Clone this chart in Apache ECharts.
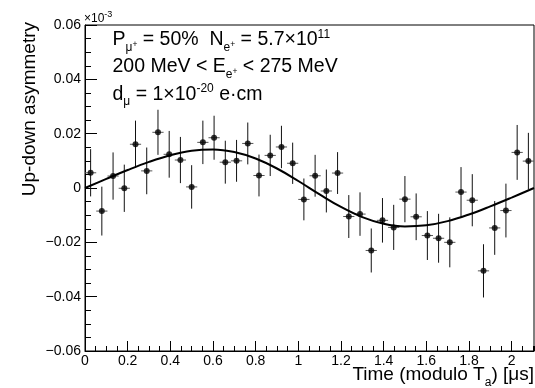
<!DOCTYPE html>
<html><head><meta charset="utf-8">
<script src="https://cdn.jsdelivr.net/npm/echarts@6/dist/echarts.min.js"></script>
<style>html,body{margin:0;padding:0;background:#fff}#c{width:535px;height:388px}</style>
</head><body><div id="c"></div>
<script>
// ---- data ----
const binCenters = [0.0263, 0.0789, 0.1316, 0.1842, 0.2368, 0.2894, 0.3421, 0.3947, 0.4473, 0.5000,
  0.5526, 0.6052, 0.6578, 0.7105, 0.7631, 0.8157, 0.8683, 0.9210, 0.9736, 1.0262,
  1.0788, 1.1315, 1.1841, 1.2367, 1.2893, 1.3420, 1.3946, 1.4472, 1.4998, 1.5525,
  1.6051, 1.6577, 1.7103, 1.7629, 1.8156, 1.8682, 1.9208, 1.9734, 2.0261, 2.0787];
const asymmetry = [0.0056, -0.0085, 0.0044, -0.0001, 0.0161, 0.0063, 0.0205, 0.0124, 0.0103, 0.0004,
  0.0168, 0.0185, 0.0095, 0.0100, 0.0164, 0.0046, 0.0120, 0.0151, 0.0091, -0.0042,
  0.0045, -0.0011, 0.0055, -0.0105, -0.0096, -0.0230, -0.0119, -0.0145, -0.0041, -0.0106,
  -0.0175, -0.0185, -0.0200, -0.0015, -0.0045, -0.0305, -0.0147, -0.0083, 0.0131, 0.0099];
const asymErr = [0.0087, 0.0090, 0.0087, 0.0087, 0.0087, 0.0086, 0.0083, 0.0086, 0.0085, 0.0080,
  0.0080, 0.0081, 0.0079, 0.0077, 0.0077, 0.0077, 0.0076, 0.0078, 0.0076, 0.0077,
  0.0077, 0.0079, 0.0077, 0.0079, 0.0080, 0.0081, 0.0082, 0.0083, 0.0085, 0.0086,
  0.0090, 0.0090, 0.0092, 0.0092, 0.0096, 0.0098, 0.0099, 0.0099, 0.0101, 0.0104];
const binWidth = 0.0526;
const fitTime = [0, 0.1, 0.2, 0.3, 0.4, 0.5, 0.6, 0.7, 0.8, 0.9, 1.0, 1.1, 1.2, 1.3, 1.4, 1.5, 1.6, 1.7, 1.8, 1.9, 2.0, 2.105];
const fitValue = [0, 0.00336, 0.00662, 0.00961, 0.01208, 0.01371, 0.01419, 0.01326, 0.01086, 0.00718, 0.00258,
  -0.00234, -0.00698, -0.01072, -0.01318, -0.01417, -0.01375, -0.0122, -0.00975, -0.00676, -0.00353, 0];
const xRange = [0, 2.105];
const yRange = [-0.06, 0.06];

const FONT = '"Liberation Sans", Arial, Helvetica, sans-serif';
const mctx = document.createElement('canvas').getContext('2d');
function measure(t, s) { mctx.font = s + 'px ' + FONT; return mctx.measureText(t).width; }
function textRun(x0, baseY, pieces, alignRight) {
  let total = 0;
  pieces.forEach(p => total += measure(p.t, p.s));
  let x = alignRight ? x0 - total : x0;
  const els = [];
  pieces.forEach(p => {
    els.push({ type: 'text', x: x, y: baseY + (p.dy || 0) - 0.34 * p.s, silent: true,
      style: { text: p.t, font: p.s + 'px ' + FONT, fill: '#000', textAlign: 'left', textVerticalAlign: 'middle' } });
    x += measure(p.t, p.s);
  });
  return els;
}

const F = 19.5, SUB = 12, TINY = 8.5, AX = 19;
const graphics = [].concat(
  textRun(112.5, 46.7, [{t:'P',s:F},{t:'μ',s:SUB,dy:5},{t:'+',s:TINY,dy:1},{t:' = 50%  N',s:F},{t:'e',s:SUB,dy:5},{t:'+',s:TINY,dy:1},{t:' = 5.7×10',s:F},{t:'11',s:SUB,dy:-8}]),
  textRun(112.5, 73.3, [{t:'200 MeV < E',s:F},{t:'e',s:SUB,dy:5},{t:'+',s:TINY,dy:1},{t:' < 275 MeV',s:F}]),
  textRun(112.5, 101, [{t:'d',s:F},{t:'μ',s:SUB,dy:5},{t:' = 1×10',s:F},{t:'-20',s:SUB,dy:-8},{t:' e·cm',s:F}]),
  textRun(534, 381, [{t:'Time (modulo T',s:AX},{t:'a',s:SUB,dy:6},{t:') [μs]',s:AX}], true),
  textRun(84, 23, [{t:'×10',s:12},{t:'-3',s:9,dy:-5}]),
  [{ type: 'text', x: 30, y: 22, rotation: Math.PI / 2, silent: true,
     style: { text: 'Up-down asymmetry', font: AX + 'px ' + FONT, fill: '#000', textAlign: 'right', textVerticalAlign: 'middle' } }]
);

const points = binCenters.map((t, i) => [t, asymmetry[i], asymErr[i]]);

const option = {
  animation: false,
  backgroundColor: '#fff',
  grid: { left: 85, top: 25, width: 449, height: 326, show: true, borderColor: '#000', borderWidth: 1, backgroundColor: 'transparent' },
  xAxis: [
    { type: 'value', min: xRange[0], max: xRange[1], interval: 0.2, position: 'bottom',
      axisLine: { show: true, onZero: false, lineStyle: { color: '#000', width: 1 } },
      axisTick: { show: true, inside: true, length: 10, lineStyle: { color: '#000' } },
      axisLabel: { show: true, showMaxLabel: false, margin: 3, color: '#000', fontSize: 14, fontFamily: FONT,
        formatter: v => String(Math.round(v * 10) / 10) },
      splitLine: { show: false } },
    { type: 'value', min: xRange[0], max: xRange[1], interval: 0.05, position: 'bottom',
      axisLine: { show: false, onZero: false },
      axisTick: { show: true, inside: true, length: 5, lineStyle: { color: '#000' } },
      axisLabel: { show: false }, splitLine: { show: false } }
  ],
  yAxis: {
    type: 'value', min: yRange[0], max: yRange[1], interval: 0.02,
    axisLine: { show: true, onZero: false, lineStyle: { color: '#000', width: 1 } },
    axisTick: { show: true, inside: true, length: 12, lineStyle: { color: '#000' } },
    minorTick: { show: true, splitNumber: 4, length: 6, lineStyle: { color: '#000' } },
    axisLabel: { margin: 4, color: '#000', fontSize: 14, fontFamily: FONT,
      formatter: v => { const r = Math.round(v * 100) / 100; if (r === 0) return '0'; return r < 0 ? '\u2212' + Math.abs(r).toFixed(2) : r.toFixed(2); } },
    splitLine: { show: false }
  },
  series: [
    { type: 'custom', xAxisIndex: 0, data: points, z: 2,
      renderItem: (params, api) => {
        const x = api.value(0), y = api.value(1), e = api.value(2);
        const top = api.coord([x, y + e]), bot = api.coord([x, y - e]);
        const l = api.coord([x - binWidth / 2, y]), r = api.coord([x + binWidth / 2, y]);
        return { type: 'group', children: [
          { type: 'line', shape: { x1: top[0], y1: top[1], x2: bot[0], y2: bot[1] }, style: { stroke: '#111', lineWidth: 1 } },
          { type: 'line', shape: { x1: l[0], y1: l[1], x2: r[0], y2: r[1] }, style: { stroke: '#555', lineWidth: 1 } }
        ] };
      } },
    { type: 'line', xAxisIndex: 0, data: fitTime.map((t, i) => [t, fitValue[i]]), smooth: 0.4, showSymbol: false,
      lineStyle: { color: '#000', width: 2 }, z: 3 },
    { type: 'scatter', xAxisIndex: 0, data: points.map(p => [p[0], p[1]]), symbol: 'circle', symbolSize: 6,
      itemStyle: { color: '#000' }, z: 4 }
  ],
  graphic: graphics
};
const chart = echarts.init(document.getElementById('c'), null, { renderer: 'canvas' });
chart.setOption(option);
</script>
</body></html>
